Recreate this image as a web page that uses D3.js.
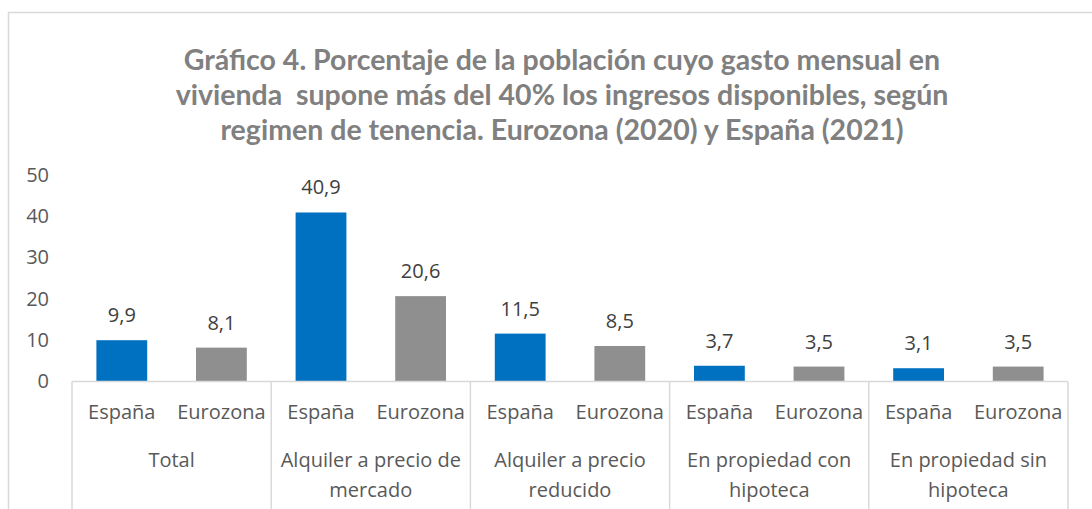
<!DOCTYPE html>
<html>
<head>
<meta charset="utf-8">
<script src="https://cdn.jsdelivr.net/npm/d3@7"></script>
<style>
body { margin: 0; background: #fff; }
#container { width: 1092px; height: 509px; }
text { font-family: "Open Sans", sans-serif; }
text.title { font-family: Lato, sans-serif; }
</style>
</head>
<body>
<div id="container"></div>
<script>
// chart data
var groups = [["Total"], ["Alquiler a precio de", "mercado"], ["Alquiler a precio", "reducido"], ["En propiedad con", "hipoteca"], ["En propiedad sin", "hipoteca"]];
var series = ["España", "Eurozona"];
var espana = [9.9, 40.9, 11.5, 3.7, 3.1];
var eurozona = [8.1, 20.6, 8.5, 3.5, 3.5];
var yTicks = [0, 10, 20, 30, 40, 50];
var titleLines = ["Gráfico 4. Porcentaje de la población cuyo gasto mensual en",
	"vivienda  supone más del 40% los ingresos disponibles, según",
	"regimen de tenencia. Eurozona (2020) y España (2021)"];

var colors = {"España": "#0070C0", "Eurozona": "#8F8F8F"};

function makeChart(){
	var w = 1092, h = 509;
	var svg = d3.select('#container')
		.append("svg")
		.attr("width", w)
		.attr("height", h);

	//Outer frame (only top and left edges visible)
	svg.append("path")
		.attr("d", "M8.5," + h + "V12.5H" + w)
		.attr("fill", "none")
		.attr("stroke", "#d9d9d9")
		.attr("stroke-width", 1.5);

	//Title
	svg.append("text")
		.attr("class", "title")
		.attr("text-anchor", "middle")
		.attr("font-size", "28.5px")
		.attr("font-weight", "bold")
		.attr("fill", "#808080")
		.style("white-space", "pre")
		.selectAll("tspan")
		.data(titleLines)
		.enter()
		.append("tspan")
		.attr("x", 562)
		.attr("y", function(d, i){ return 70 + i * 35; })
		.text(function(d){ return d; });

	var left = 72, right = 1068;
	var x0 = d3.scaleBand()
		.domain(d3.range(groups.length))
		.range([left, right])
		.padding(0);

	var x1 = d3.scaleBand()
		.domain(series)
		.range([0, x0.bandwidth()])
		.paddingInner(0.49)
		.paddingOuter(0.245);

	var y = d3.scaleLinear()
		.domain([0, 50])
		.range([381, 175]);

	//Y tick labels
	svg.selectAll("text.ytick")
		.data(yTicks)
		.enter()
		.append("text")
		.attr("class", "ytick")
		.attr("x", 49)
		.attr("y", function(d){ return y(d); })
		.attr("dy", "0.35em")
		.attr("text-anchor", "end")
		.attr("font-size", "20px")
		.attr("fill", "#595959")
		.text(function(d){ return d; });

	//Bars
	var rows = [];
	groups.forEach(function(g, i){
		rows.push({g: i, s: "España", v: espana[i]});
		rows.push({g: i, s: "Eurozona", v: eurozona[i]});
	});

	svg.selectAll("rect.bar")
		.data(rows)
		.enter()
		.append("rect")
		.attr("class", "bar")
		.attr("x", function(d){ return x0(d.g) + x1(d.s); })
		.attr("y", function(d){ return y(d.v); })
		.attr("width", x1.bandwidth())
		.attr("height", function(d){ return y(0) - y(d.v); })
		.attr("fill", function(d){ return colors[d.s]; });

	//Data labels
	svg.selectAll("text.val")
		.data(rows)
		.enter()
		.append("text")
		.attr("class", "val")
		.attr("x", function(d){ return x0(d.g) + x1(d.s) + x1.bandwidth() / 2; })
		.attr("y", function(d){ return y(d.v) - 18; })
		.attr("text-anchor", "middle")
		.attr("font-size", "20px")
		.attr("fill", "#404040")
		.text(function(d){ return d.v.toFixed(1).replace(".", ","); });

	//Category axis lines
	var axisColor = "#d9d9d9";
	svg.append("line")
		.attr("x1", left).attr("x2", right)
		.attr("y1", y(0) + 0.5).attr("y2", y(0) + 0.5)
		.attr("stroke", axisColor)
		.attr("stroke-width", 1.5);

	var bounds = d3.range(groups.length).map(function(i){ return x0(i); }).concat([right]);
	svg.selectAll("line.sep")
		.data(bounds)
		.enter()
		.append("line")
		.attr("class", "sep")
		.attr("x1", function(d){ return d; })
		.attr("x2", function(d){ return d; })
		.attr("y1", y(0) + 0.5)
		.attr("y2", h)
		.attr("stroke", axisColor)
		.attr("stroke-width", 1.5);

	//Series labels under each bar
	svg.selectAll("text.sub")
		.data(rows)
		.enter()
		.append("text")
		.attr("class", "sub")
		.attr("x", function(d){ return x0(d.g) + x1(d.s) + x1.bandwidth() / 2; })
		.attr("y", 419)
		.attr("text-anchor", "middle")
		.attr("font-size", "20px")
		.attr("fill", "#595959")
		.text(function(d){ return d.s; });

	//Group labels
	svg.selectAll("text.grp")
		.data(groups)
		.enter()
		.append("text")
		.attr("class", "grp")
		.attr("text-anchor", "middle")
		.attr("font-size", "20px")
		.attr("fill", "#595959")
		.each(function(d, i){
			d3.select(this).selectAll("tspan")
				.data(d)
				.enter()
				.append("tspan")
				.attr("x", x0(i) + x0.bandwidth() / 2)
				.attr("y", function(t, j){ return 467 + j * 30; })
				.text(function(t){ return t; });
		});
}

makeChart();
</script>
</body>
</html>
